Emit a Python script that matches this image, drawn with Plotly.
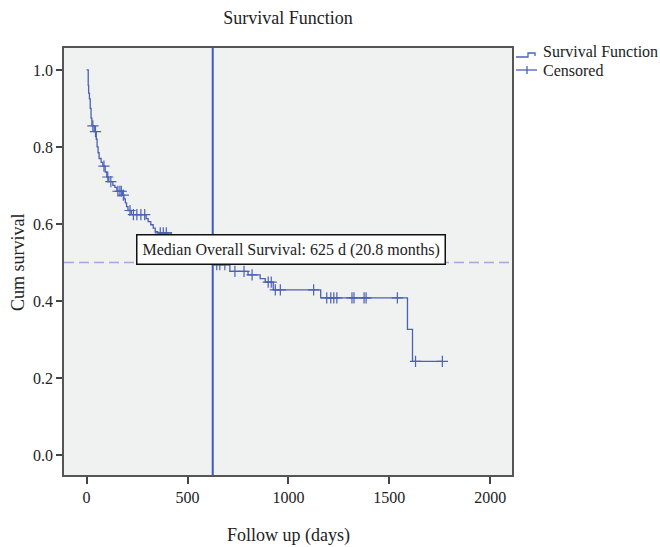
import plotly.graph_objects as go

# ---- data ----
km_time = [0, 8, 10, 14, 18, 22, 26, 38, 48, 52, 57, 62, 72, 80, 92, 100, 110, 130, 140, 150,
           178, 185, 192, 198, 205, 222, 295, 305, 318, 330, 340, 352, 420, 460, 500, 530,
           560, 590, 610, 620, 625, 710, 800, 860, 885, 925, 1160, 1590, 1615, 1763]
km_surv = [1.0, 0.96, 0.94, 0.925, 0.90, 0.875, 0.855, 0.84, 0.82, 0.80, 0.785, 0.77, 0.76, 0.75,
           0.735, 0.722, 0.71, 0.70, 0.695, 0.685, 0.675, 0.665, 0.655, 0.645, 0.635, 0.624,
           0.614, 0.606, 0.598, 0.589, 0.58, 0.577, 0.571, 0.562, 0.553, 0.544, 0.535, 0.526,
           0.517, 0.508, 0.494, 0.477, 0.468, 0.458, 0.449, 0.429, 0.408, 0.326, 0.243, 0.243]

censor_time = [31, 44, 86, 105, 120, 155, 165, 172, 182, 215, 232, 249, 269, 288, 365, 380, 395,
               645, 660, 685, 735, 780, 820, 900, 915, 935, 960, 1125,
               1190, 1210, 1225, 1240, 1315, 1325, 1375, 1385, 1540, 1630, 1763]
censor_surv = [0.855, 0.84, 0.75, 0.722, 0.71, 0.685, 0.685, 0.685, 0.675, 0.635, 0.624, 0.624,
               0.624, 0.624, 0.577, 0.577, 0.577,
               0.494, 0.494, 0.494, 0.477, 0.477, 0.468, 0.449, 0.449, 0.429, 0.429, 0.429,
               0.408, 0.408, 0.408, 0.408, 0.408, 0.408, 0.408, 0.408, 0.408, 0.243, 0.243]

median_days = 625
median_surv = 0.5
x_ticks = [0, 500, 1000, 1500, 2000]
y_ticks = [0.0, 0.2, 0.4, 0.6, 0.8, 1.0]
y_ticklabels = ["0.0", "0.2", "0.4", "0.6", "0.8", "1.0"]

FONT = "Liberation Serif"
CURVE = "#4a61b6"
TXT = "#222222"

fig = go.Figure()
fig.add_trace(go.Scatter(x=km_time, y=km_surv, mode="lines", line=dict(shape="hv", color=CURVE, width=1.3),
                         showlegend=False, hoverinfo="skip"))
fig.add_trace(go.Scatter(x=censor_time, y=censor_surv, mode="markers",
                         marker=dict(symbol="cross-thin", size=8, line=dict(color=CURVE, width=1.2)),
                         showlegend=False, hoverinfo="skip"))

# median reference lines
fig.add_shape(type="line", xref="paper", yref="y", x0=0, x1=1, y0=median_surv, y1=median_surv,
              line=dict(color="#a4a9dc", width=1.5, dash="10px,5px"))
fig.add_shape(type="line", xref="x", yref="paper", x0=median_days, x1=median_days, y0=0, y1=1,
              line=dict(color="#3e5ac0", width=2))

fig.add_annotation(x=1013, y=0.533, xref="x", yref="y",
                   text="Median Overall Survival: 625 d (20.8 months)", showarrow=False,
                   font=dict(family=FONT, size=16, color=TXT), bgcolor="white",
                   bordercolor="#111111", borderwidth=1.5, borderpad=5)

# legend drawn manually (step icon + censor icon)
def px_x(p):
    return (p - 64) / 448.0

def px_y(p):
    return (475 - p) / 427.0

fig.add_shape(type="path", xref="paper", yref="paper",
              path=f"M {px_x(516)},{px_y(57)} L {px_x(528)},{px_y(57)} L {px_x(528)},{px_y(53)} "
                   f"L {px_x(535)},{px_y(53)} L {px_x(535)},{px_y(56)}",
              line=dict(color=CURVE, width=1.3))
fig.add_shape(type="line", xref="paper", yref="paper", x0=px_x(516), x1=px_x(537), y0=px_y(70), y1=px_y(70),
              line=dict(color=CURVE, width=1.3))
fig.add_shape(type="line", xref="paper", yref="paper", x0=px_x(527), x1=px_x(527), y0=px_y(66), y1=px_y(74),
              line=dict(color=CURVE, width=1.3))
fig.add_annotation(x=px_x(541), y=px_y(51), xref="paper", yref="paper", text="Survival Function",
                   showarrow=False, xanchor="left", yanchor="middle", font=dict(family=FONT, size=16, color=TXT))
fig.add_annotation(x=px_x(541), y=px_y(71), xref="paper", yref="paper", text="Censored",
                   showarrow=False, xanchor="left", yanchor="middle", font=dict(family=FONT, size=16, color=TXT))

# axis titles
fig.add_annotation(x=0.5, y=px_y(535), xref="paper", yref="paper", text="Follow up (days)",
                   showarrow=False, yanchor="middle", font=dict(family=FONT, size=18, color=TXT))
fig.add_annotation(x=px_x(18), y=px_y(262), xref="paper", yref="paper", text="Cum survival",
                   showarrow=False, textangle=-90, xanchor="center", yanchor="middle",
                   font=dict(family=FONT, size=18, color=TXT))

fig.update_layout(
    width=660, height=547,
    margin=dict(l=64, r=148, t=48, b=72),
    paper_bgcolor="white", plot_bgcolor="#f0f1f1",
    font=dict(family=FONT, size=15, color=TXT),
    title=dict(text="Survival Function", x=0.5, xref="paper", xanchor="center",
               y=1 - 18 / 547, yref="container", yanchor="middle",
               font=dict(family=FONT, size=18, color=TXT)),
    showlegend=False,
)
fig.update_xaxes(range=[-112, 2108], tickvals=x_ticks, ticktext=[str(v) for v in x_ticks],
                 ticks="outside", ticklen=7, tickwidth=1.5, tickcolor="#444",
                 showline=True, linecolor="#555", linewidth=1.5, mirror=True,
                 showgrid=False, zeroline=False, tickfont=dict(family=FONT, size=16, color=TXT))
fig.update_yaxes(range=[-0.052, 1.057], tickvals=y_ticks, ticktext=y_ticklabels,
                 ticks="outside", ticklen=6, tickwidth=1.5, tickcolor="#444",
                 showline=True, linecolor="#555", linewidth=1.5, mirror=True,
                 showgrid=False, zeroline=False, tickfont=dict(family=FONT, size=16, color=TXT))

fig.write_html("out.html")
